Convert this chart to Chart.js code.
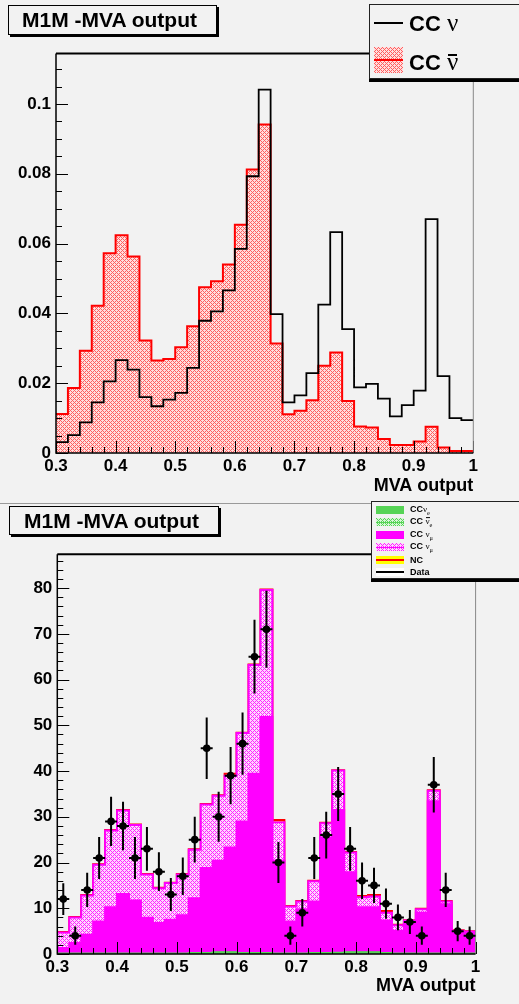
<!DOCTYPE html>
<html>
<head>
<meta charset="utf-8">
<script src="https://cdn.jsdelivr.net/npm/chart.js@4.4.0/dist/chart.umd.min.js"></script>
<style>
  body { margin: 0; background: #f2f2f2; width: 519px; height: 1004px; position: relative; overflow: hidden;
         font-family: "Liberation Sans", Arial, sans-serif; }
  .panel { position: absolute; left: 0; width: 519px; }
  .divider { position: absolute; left: 0; width: 519px; top: 503px; height: 1px; background: #9a9a9a; }
  .title { position: absolute; border: 1px solid #000; box-shadow: 2px 2px 0 #000; background: #f2f2f2;
           font-weight: bold; font-size: 21px; box-sizing: border-box; white-space: nowrap; }
  .legend { position: absolute; border: 1px solid #222; background: #f2f2f2; box-sizing: border-box; }
  .lbl { position: absolute; white-space: nowrap; font-weight: bold; transform: translateY(-50%); }
  .sw { position: absolute; box-sizing: border-box; }
  .nu { font-family: "Liberation Serif", serif; font-weight: normal; position: relative; }
  .big { font-size: 25px; }
  .bar::before { content: ''; position: absolute; left: 1px; right: 1px; top: 0.22em; border-top: 2px solid #000; }
  .sbar::before { content: ''; position: absolute; left: 0; right: 0; top: 0.15em; border-top: 1px solid #000; }
  sub { font-size: 70%; font-family: "Liberation Serif", serif; font-weight: normal; }
</style>
</head>
<body>
<div class="panel" style="top:0;height:503px"><canvas id="topChart"></canvas></div>
<div class="divider"></div>
<div class="panel" style="top:504px;height:500px"><canvas id="bottomChart"></canvas></div>

<div class="title" style="left:8px;top:5px;width:209px;height:30px;line-height:28px;padding-left:13px">M1M -MVA output</div>
<div class="title" style="left:9px;top:506px;width:210px;height:29px;line-height:27px;padding-left:14px">M1M -MVA output</div>

<div id="legendTop" class="legend" style="left:369px;top:4px;width:160px;height:75px;box-shadow:0 3px 0 #000"></div>
<div id="legendBottom" class="legend" style="left:371px;top:501px;width:160px;height:78px;box-shadow:0 3px 0 #000"></div>

<script>
// bin lower edges (bin width 0.02)
const binLow = [0.30, 0.32, 0.34, 0.36, 0.38, 0.40, 0.42, 0.44, 0.46, 0.48,
                0.50, 0.52, 0.54, 0.56, 0.58, 0.60, 0.62, 0.64, 0.66, 0.68,
                0.70, 0.72, 0.74, 0.76, 0.78, 0.80, 0.82, 0.84, 0.86, 0.88,
                0.90, 0.92, 0.94, 0.96, 0.98];
const binWidth = 0.02;
const xMin = 0.3, xMax = 1.0;
const xTickLabels = ['0.3', '0.4', '0.5', '0.6', '0.7', '0.8', '0.9', '1'];

// top panel: normalised shapes
const ccNu = [0.0031, 0.0051, 0.0088, 0.0145, 0.0205, 0.0266, 0.0239, 0.0160, 0.0134, 0.0153,
              0.0172, 0.0244, 0.0379, 0.0406, 0.0466, 0.0585, 0.0793, 0.1041, 0.0398, 0.0145,
              0.0165, 0.0229, 0.0425, 0.0633, 0.0355, 0.0188, 0.0198, 0.0156, 0.0105, 0.0137,
              0.0179, 0.0670, 0.0220, 0.0100, 0.0094];
const ccNuBar = [0.0112, 0.0186, 0.0293, 0.0422, 0.0572, 0.0624, 0.0563, 0.0322, 0.0265, 0.0269,
                 0.0303, 0.0363, 0.0475, 0.0492, 0.0540, 0.0654, 0.0812, 0.0941, 0.0314, 0.0111,
                 0.0121, 0.0151, 0.0250, 0.0288, 0.0149, 0.0076, 0.0073, 0.0040, 0.0023, 0.0023,
                 0.0033, 0.0075, 0.0016, 0.0006, 0.0006];
const topYMax = 0.1145;

// bottom panel: stacked MC + data
const ccNue = [0.1, 0.1, 0.1, 0.1, 0.1, 0.1, 0.1, 0.1, 0.1, 0.1,
               0.1, 0.2, 0.2, 0.4, 0.4, 0.2, 0.2, 0.2, 0.1, 0.1,
               0.1, 0.2, 0.2, 0.3, 0.4, 0.4, 0.4, 0.2, 0.1, 0.1,
               0.1, 0.1, 0.1, 0.1, 0.1];
const ccNueBar = [0, 0, 0, 0, 0, 0, 0, 0, 0, 0,
                  0, 0, 0, 0, 0, 0, 0, 0, 0, 0,
                  0, 0, 0, 0, 0, 0, 0, 0, 0, 0,
                  0, 0, 0, 0, 0];
const ccNumu = [1.2, 2.3, 4.1, 7.0, 10.1, 13.0, 11.6, 7.8, 6.7, 7.4,
                8.4, 12.0, 18.6, 20.0, 22.9, 28.8, 39.2, 51.6, 20.3, 7.0,
                9.7, 11.3, 25.3, 31.2, 17.5, 9.8, 9.8, 7.1, 5.0, 6.5,
                8.9, 33.3, 10.8, 4.9, 4.7];
const ccNumuBar = [3.4, 5.6, 8.6, 12.4, 16.8, 18.3, 16.5, 9.5, 7.6, 8.0,
                   8.9, 10.6, 13.9, 14.2, 15.7, 19.3, 23.8, 27.8, 8.4, 3.3,
                   1.7, 4.4, 3.1, 8.6, 4.3, 2.2, 2.4, 1.7, 1.2, 0.7,
                   0.8, 2.3, 0.6, 0.1, 0.1];
const nc = [0.1, 0.1, 0.1, 0.1, 0.1, 0.1, 0.1, 0.1, 0.1, 0.1,
            0.1, 0.1, 0.1, 0.1, 0.4, 0.1, 0.1, 0.1, 0.5, 0.1,
            0.1, 0.1, 0.1, 0.1, 0.1, 0.3, 0.3, 0.4, 0.1, 0.1,
            0.1, 0.1, 0.1, 0.1, 0.1];
const dataCounts = [12, 4, 14, 21, 29, 28, 21, 23, 18, 13,
                    17, 25, 45, 30, 39, 46, 65, 71, 20, 4,
                    9, 21, 26, 35, 23, 16, 15, 11, 8, 7,
                    4, 37, 14, 5, 4];
const bottomYMax = 87.4;

const FONT = '"Liberation Sans", Arial, sans-serif';
const GREEN = 'rgb(86, 212, 86)';
const MAGENTA = '#ff00ff';

// 4px cross-hatch tile: line colour on a pale tint of the same colour
function hatch(line, cell) {
  const c = document.createElement('canvas');
  c.width = 4; c.height = 4;
  const cx = c.getContext('2d');
  const img = cx.createImageData(4, 4);
  for (let y = 0; y < 4; y++) {
    for (let x = 0; x < 4; x++) {
      const k = (y * 4 + x) * 4;
      const on = (x + y) % 4 === 0 || (x - y + 4) % 4 === 0;
      const col = on ? line : cell;
      img.data[k] = col[0]; img.data[k + 1] = col[1]; img.data[k + 2] = col[2]; img.data[k + 3] = 255;
    }
  }
  cx.putImageData(img, 0, 0);
  return c;
}
const redHatchCanvas = hatch([255, 95, 95], [255, 222, 222]);
const magHatchCanvas = hatch([255, 40, 255], [255, 215, 255]);
const greenHatchCanvas = hatch([86, 212, 86], [215, 245, 215]);

function steps(values) {
  const pts = binLow.map((x, i) => ({ x: x, y: values[i] }));
  pts.push({ x: xMax, y: values[values.length - 1] });
  return pts;
}

// inward ticks + frame
const framePlugin = {
  id: 'frame',
  afterDatasetsDraw(chart, args, opts) {
    const { ctx, chartArea: a, scales: { x, y } } = chart;
    ctx.save();
    ctx.strokeStyle = '#000';
    ctx.lineWidth = 1;
    ctx.beginPath();
    for (let i = 0; ; i++) {
      const v = xMin + i * opts.xMinor;
      if (v > xMax + 1e-9) break;
      const major = Math.abs(v / opts.xMajor - Math.round(v / opts.xMajor)) < 1e-6;
      const px = Math.round(x.getPixelForValue(v)) + 0.5;
      ctx.moveTo(px, a.bottom);
      ctx.lineTo(px, a.bottom - (major ? 12 : 6));
    }
    for (let i = 0; ; i++) {
      const v = i * opts.yMinor;
      if (v > y.max + 1e-9) break;
      const major = Math.abs(v / opts.yMajor - Math.round(v / opts.yMajor)) < 1e-6;
      const py = Math.round(y.getPixelForValue(v)) + 0.5;
      ctx.moveTo(a.left, py);
      ctx.lineTo(a.left + (major ? 12 : 6), py);
    }
    ctx.stroke();
    // frame
    ctx.strokeStyle = '#888';
    ctx.beginPath();
    ctx.moveTo(a.right, a.top); ctx.lineTo(a.right, a.bottom);
    ctx.stroke();
    ctx.strokeStyle = '#000';
    ctx.lineWidth = 2;
    ctx.beginPath();
    ctx.moveTo(a.left, a.top); ctx.lineTo(a.right, a.top);
    ctx.stroke();
    ctx.lineWidth = 1.5;
    ctx.beginPath();
    ctx.moveTo(a.left, a.top); ctx.lineTo(a.left, a.bottom); ctx.lineTo(a.right, a.bottom);
    ctx.stroke();
    ctx.restore();
  }
};

// error bars for data points
const errorBarPlugin = {
  id: 'errorBars',
  afterDatasetsDraw(chart) {
    const { ctx, scales: { x, y } } = chart;
    ctx.save();
    ctx.strokeStyle = '#000';
    ctx.lineWidth = 2;
    ctx.beginPath();
    dataCounts.forEach((n, i) => {
      const xc = binLow[i] + binWidth / 2;
      const err = Math.sqrt(n);
      const px = x.getPixelForValue(xc);
      ctx.moveTo(px, y.getPixelForValue(n - err));
      ctx.lineTo(px, y.getPixelForValue(n + err));
      ctx.moveTo(x.getPixelForValue(xc - binWidth / 2), y.getPixelForValue(n));
      ctx.lineTo(x.getPixelForValue(xc + binWidth / 2), y.getPixelForValue(n));
    });
    ctx.stroke();
    ctx.restore();
  }
};

function axes(yMax, yStep, yFmt, leftW, xH, titlePad) {
  return {
    x: {
      type: 'linear', min: xMin, max: xMax,
      grid: { display: false, drawTicks: false }, border: { display: false },
      ticks: {
        stepSize: 0.1, padding: 3, color: '#000',
        font: { family: FONT, size: 17, weight: 'bold' },
        callback: (v) => { const i = Math.round((v - xMin) / 0.1); return xTickLabels[i]; }
      },
      title: { display: true, text: 'MVA output', align: 'end', color: '#000',
               font: { family: FONT, size: 18, weight: 'bold' }, padding: { top: 0, bottom: titlePad } },
      afterFit: (s) => { s.height = xH; }
    },
    y: {
      min: 0, max: yMax,
      grid: { display: false, drawTicks: false }, border: { display: false },
      ticks: { stepSize: yStep, includeBounds: false, padding: 5, color: '#000',
               font: { family: FONT, size: 17, weight: 'bold' }, callback: yFmt },
      afterFit: (s) => { s.width = leftW; }
    }
  };
}

const pat = (c) => document.createElement('canvas').getContext('2d').createPattern(c, 'repeat');

new Chart(document.getElementById('topChart'), {
  type: 'line',
  data: {
    datasets: [
      { label: 'CC ν', data: steps(ccNu), stepped: 'before', borderColor: '#000', borderWidth: 1.8,
        pointRadius: 0, fill: false },
      { label: 'CC ν̄', data: steps(ccNuBar), stepped: 'before', borderColor: '#ff0000', borderWidth: 2,
        backgroundColor: pat(redHatchCanvas), pointRadius: 0, fill: 'origin' }
    ]
  },
  options: {
    responsive: true, maintainAspectRatio: false, animation: false,
    layout: { padding: { left: 0, top: 53.4, right: 45.7, bottom: 0 } },
    scales: axes(topYMax, 0.02, (v) => String(+v.toFixed(2)), 56, 50, 6.5),
    plugins: {
      legend: { display: false }, tooltip: { enabled: false },
      frame: { xMajor: 0.1, xMinor: 0.02, yMajor: 0.02, yMinor: 0.005 }
    }
  },
  plugins: [framePlugin]
});

const bottomOpts = {
  responsive: true, maintainAspectRatio: false, animation: false,
  layout: { padding: { left: 0, top: 50.3, right: 43.4, bottom: 0 } },
  scales: axes(bottomYMax, 10, (v) => String(v), 57.3, 50, 7.2),
  plugins: {
    legend: { display: false }, tooltip: { enabled: false },
    frame: { xMajor: 0.1, xMinor: 0.02, yMajor: 10, yMinor: 2 }
  }
};
bottomOpts.scales.y.stacked = true;

new Chart(document.getElementById('bottomChart'), {
  type: 'line',
  data: {
    datasets: [
      { label: 'Data', stack: 'data', showLine: false,
        data: dataCounts.map((n, i) => ({ x: binLow[i] + binWidth / 2, y: n })),
        pointStyle: 'circle', pointRadius: 3.8, pointBackgroundColor: '#000', pointBorderColor: '#000',
        pointBorderWidth: 0 },
      { label: 'CC νe', stack: 'mc', data: steps(ccNue), stepped: 'before', borderColor: GREEN,
        borderWidth: 2, backgroundColor: GREEN, pointRadius: 0, fill: 'origin' },
      { label: 'CC ν̄e', stack: 'mc', data: steps(ccNueBar), stepped: 'before', borderColor: GREEN,
        borderWidth: 1, backgroundColor: pat(greenHatchCanvas), pointRadius: 0, fill: '-1' },
      { label: 'CC νμ', stack: 'mc', data: steps(ccNumu), stepped: 'before', borderColor: MAGENTA,
        borderWidth: 2, backgroundColor: MAGENTA, pointRadius: 0, fill: '-1' },
      { label: 'CC ν̄μ', stack: 'mc', data: steps(ccNumuBar), stepped: 'before', borderColor: MAGENTA,
        borderWidth: 2, backgroundColor: pat(magHatchCanvas), pointRadius: 0, fill: '-1' },
      { label: 'NC', stack: 'mc', data: steps(nc), stepped: 'before', borderColor: '#ff0000',
        borderWidth: 2, backgroundColor: '#ffff00', pointRadius: 0, fill: '-1' }
    ]
  },
  options: bottomOpts,
  plugins: [framePlugin, errorBarPlugin]
});

// legends (HTML text)
function addSwatch(left, top, w, h, style) {
  const d = document.createElement('div');
  d.className = 'sw';
  Object.assign(d.style, { left: left + 'px', top: top + 'px', width: w + 'px', height: h + 'px' }, style);
  document.body.appendChild(d);
}
function addLabel(left, cy, html, size) {
  const d = document.createElement('div');
  d.className = 'lbl';
  d.style.left = left + 'px';
  d.style.top = cy + 'px';
  d.style.fontSize = size + 'px';
  d.innerHTML = html;
  document.body.appendChild(d);
}
const hatchUrl = (c) => 'url(' + c.toDataURL() + ')';

// top legend
addSwatch(374, 22, 29, 1.5, { background: '#000' });
addLabel(409, 23, 'CC <span class="nu big">ν</span>', 22);
addSwatch(374, 47, 29, 26, { backgroundImage: hatchUrl(redHatchCanvas) });
addSwatch(374, 58.5, 29, 2, { background: '#ff0000' });
addLabel(409, 62, 'CC <span class="nu big bar">ν</span>', 22);

// bottom legend
const rowY = [509.5, 522, 534.5, 547, 559.5, 572];
addSwatch(376, rowY[0] - 4, 28, 8, { background: GREEN });
addLabel(410, rowY[0], 'CC<span class="nu">ν</span><sub>e</sub>', 9);
addSwatch(376, rowY[1] - 4, 28, 8, { backgroundImage: hatchUrl(greenHatchCanvas) });
addSwatch(376, rowY[1] - 0.5, 28, 1, { background: GREEN });
addLabel(410, rowY[1], 'CC <span class="nu sbar">ν</span><sub>e</sub>', 9);
addSwatch(376, rowY[2] - 4, 28, 8, { background: MAGENTA });
addLabel(410, rowY[2], 'CC <span class="nu">ν</span><sub>μ</sub>', 9);
addSwatch(376, rowY[3] - 4, 28, 8, { backgroundImage: hatchUrl(magHatchCanvas) });
addSwatch(376, rowY[3] - 0.5, 28, 1.5, { background: MAGENTA });
addLabel(410, rowY[3], 'CC <span class="nu">ν</span><sub>μ</sub>', 9);
addSwatch(376, rowY[4] - 4, 28, 8, { background: '#ffff00' });
addSwatch(376, rowY[4] - 1, 28, 2, { background: '#ff0000' });
addLabel(410, rowY[4], 'NC', 9);
addSwatch(376, rowY[5] - 4, 28, 8, { background: '#fff' });
addSwatch(376, rowY[5] - 1, 28, 2, { background: '#000' });
addLabel(410, rowY[5], 'Data', 9);
</script>
</body>
</html>
